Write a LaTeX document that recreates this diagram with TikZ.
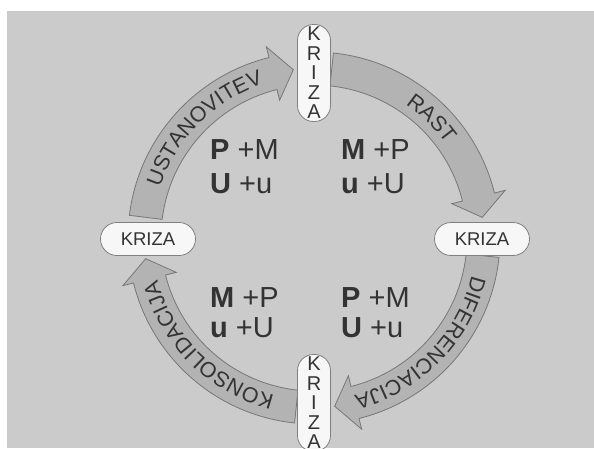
\documentclass[tikz,border=0pt]{standalone}
\usepackage{fontspec}
\setmainfont{Liberation Sans}
\usetikzlibrary{decorations.text}

\definecolor{paper}{HTML}{CBCBCB}
\definecolor{bandfill}{HTML}{B3B3B3}
\definecolor{bandline}{HTML}{777777}
\definecolor{pillline}{HTML}{808080}
\definecolor{pillfill}{HTML}{F7F7F7}
\definecolor{ink}{HTML}{333333}

\newcommand\arcfont{\fontsize{21.5}{21.5}\selectfont}
\newcommand\bigfont{\fontsize{29}{33}\selectfont}

% one curved arrow of the ring: tail angle, tip angle (clockwise), label
\newcommand\ringarrow[3]{%
  \draw[arrowband] (#1:186pt) arc[start angle=#1, end angle={#2+7}, radius=186pt]
    -- ({#2+7}:197pt) -- (#2:169.5pt) -- ({#2+7}:142pt) -- ({#2+7}:153pt)
    arc[start angle={#2+7}, end angle=#1, radius=153pt] -- cycle;
  \path[decorate, decoration={text along path, text align=center,
      text color=ink, text={|\arcfont|#3}}]
    (#1:162pt) arc[start angle=#1, end angle=#2, radius=162pt];
}

\tikzset{
  arrowband/.style={fill=bandfill, draw=bandline, line width=0.8pt, line join=miter},
  hpill/.style={draw=pillline, fill=pillfill, line width=0.8pt, rounded corners=16.5pt,
    minimum width=95pt, minimum height=33pt, inner sep=0pt, text=ink,
    font=\fontsize{18.5}{18.5}\selectfont},
  vpill/.style={draw=pillline, fill=pillfill, line width=0.8pt, rounded corners=16pt,
    minimum width=33pt, minimum height=97pt, inner sep=0pt, text=ink, align=center,
    font=\fontsize{20}{19.5}\selectfont},
  mix/.style={anchor=base west, inner sep=0pt, text=ink, font=\bigfont},
}

\begin{document}
\begin{tikzpicture}[x=1pt, y=1pt]
  \useasboundingbox (-314,-210) rectangle (280,238);
  \fill[white] (-314,-210) rectangle (280,238);
  \fill[paper] (-307,-210) rectangle (280,227);

  % the four phases of the cycle
  \ringarrow{173}{97}{USTANOVITEV}
  \ringarrow{84}{7}{RAST}
  \ringarrow{-6}{-83}{DIFERENCIACIJA}
  \ringarrow{264}{187}{KONSOLIDACIJA}

  % crises between the phases
  \node[vpill] (ktop) at (0,165) {K\\R\\I\\Z\\A};
  \node[vpill] (kbot) at (0,-165) {K\\R\\I\\Z\\A};
  \node[hpill] (kleft) at (-166,-1) {KRIZA};
  \node[hpill] (kright) at (168,-1) {KRIZA};

  % role mixes in the four quadrants
  \node[mix] (tl1) at (-104,79) {\textbf{P} +M};
  \node[mix] (tl2) at (-104,45) {\textbf{U} +u};
  \node[mix] (tr1) at (27,79) {\textbf{M} +P};
  \node[mix] (tr2) at (27,45) {\textbf{u} +U};
  \node[mix] (bl1) at (-104,-69) {\textbf{M} +P};
  \node[mix] (bl2) at (-104,-99) {\textbf{u} +U};
  \node[mix] (br1) at (27,-69) {\textbf{P} +M};
  \node[mix] (br2) at (27,-99) {\textbf{U} +u};
\end{tikzpicture}
\end{document}
